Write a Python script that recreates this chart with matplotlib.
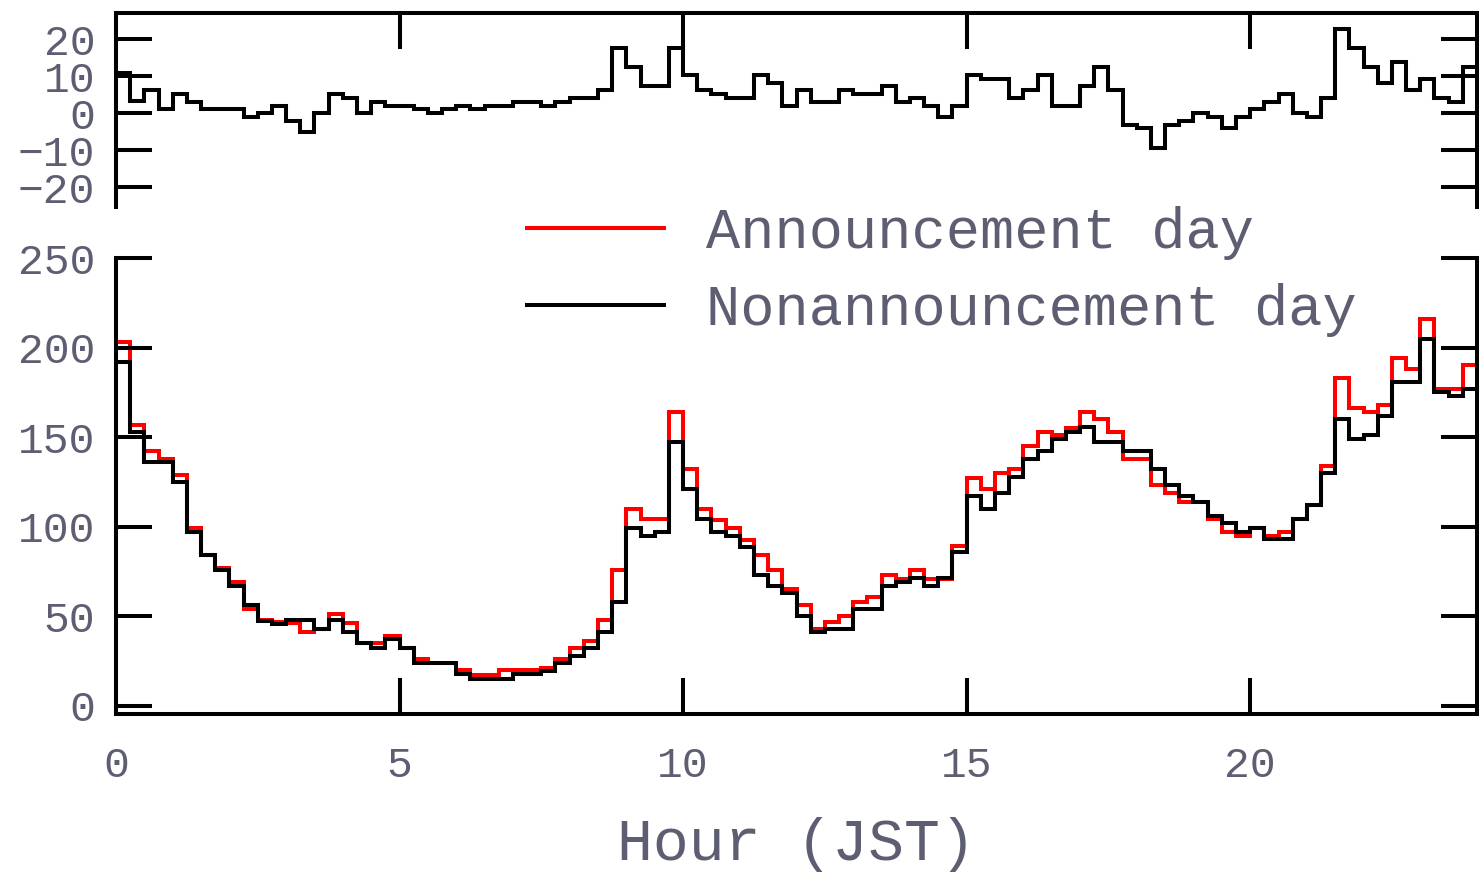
import numpy as np
import matplotlib
matplotlib.use('Agg')
import matplotlib.pyplot as plt
from matplotlib.lines import Line2D

########## data (15 min bins) ##########
hours = np.arange(0, 24.25, 0.25)  # bin edges in JST hours

announce = [203, 157, 142, 138, 129, 99, 84, 77, 69, 54, 48, 47, 46, 41, 43, 51,
            46, 35, 35, 39, 32.5, 26, 24, 24, 20, 17, 17, 20, 20, 20, 21, 26,
            32, 36, 48, 76, 110, 104, 104, 164, 132, 110, 103.5, 99, 92.5, 84,
            76, 65, 56, 43, 47, 50, 58, 61, 73, 71, 76, 71, 71, 89, 127, 121,
            130, 132, 145, 153, 151, 155, 164, 160, 153, 138, 138, 123, 119, 114,
            114, 104, 97, 95, 99, 95, 97, 104, 112, 134, 183, 166, 164, 168, 194,
            188, 216, 177, 177, 190]

nonannounce = [192, 153, 136, 136, 125, 97, 84, 76, 67, 56, 47.6, 45.6, 48, 48, 43, 48,
               41, 35, 32.5, 37, 32.5, 23.7, 23.7, 23.7, 17.5, 15, 15, 15, 17.5, 17.5,
               19.6, 23.7, 28, 32.5, 41, 58, 99, 95, 97, 147, 121, 104, 97, 95, 88.6,
               73, 67, 63, 50, 41, 43, 43, 54, 54, 67, 69, 71.4, 67, 71.4, 86, 117,
               110, 119, 127.5, 138, 142, 149, 153, 155.5, 147, 147, 142, 142, 132,
               123, 117, 114, 106, 102, 97, 99, 93, 93, 104, 112, 130, 160, 149, 151,
               162, 181, 181, 205, 175, 173, 177]

difference = [11, 3.3, 6.3, 1, 5.2, 3.1, 1, 1, 1, -1, 0, 2, -2, -5.2, 0, 5.2,
              4.2, 0, 3.1, 2, 2, 1, 0, 1, 2, 1, 2, 2, 3.1, 3.1, 2, 3.1,
              4.2, 4.2, 6.3, 17.7, 12.6, 7.4, 7.4, 17.7, 10.3, 6.3, 5.2, 4.2, 4.2, 10.3,
              8.3, 2, 6.3, 3.1, 3.1, 6.3, 5.2, 5.2, 7.4, 3.1, 4.2, 2, -1, 2, 10.3, 9.3,
              9.3, 4.2, 6.3, 10.3, 2, 2, 7.4, 12.6, 6.3, -3.2, -4.1, -9.4, -3.2, -2,
              0, -1, -4.1, -1, 1, 3.1, 5.2, 0, -1, 4.2, 22.8, 17.7, 12.6, 8.3, 13.8,
              6.3, 9.3, 4.2, 3.1, 12.6]

xticks = [0, 5, 10, 15, 20]
yticks_main = [0, 50, 100, 150, 200, 250]
yticks_diff = [-20, -10, 0, 10, 20]

########## style ##########
font = 'Liberation Mono'
txtcol = '#5e5e72'
lw = 2.9

plt.rcParams['font.family'] = font
plt.rcParams['axes.linewidth'] = lw

fig = plt.figure(figsize=(14.79, 8.82), dpi=100)
W, H = 1479.0, 882.0
ax_top = fig.add_axes([116 / W, 1 - 207 / H, 1361 / W, (207 - 12.7) / H])
ax_bot = fig.add_axes([116 / W, 1 - 714 / H, 1361 / W, (714 - 258) / H])

tick_kw = dict(direction='in', length=26, width=lw, colors='black',
               labelcolor=txtcol, labelsize=31)

# difference panel
ax_top.stairs(difference, hours, baseline=None, color='black', lw=lw)
ax_top.set_xlim(0, 24)
ax_top.set_ylim(-25.4, 27.2)
ax_top.spines['bottom'].set_visible(False)
ax_top.set_xticks(xticks)
ax_top.set_yticks(yticks_diff)
ax_top.tick_params(axis='x', top=True, bottom=False, labelbottom=False, **tick_kw)
ax_top.tick_params(axis='y', left=True, right=True, pad=15, **tick_kw)

# main panel
ax_bot.stairs(announce, hours, baseline=None, color='#ff0000', lw=lw)
ax_bot.stairs(nonannounce, hours, baseline=None, color='black', lw=lw)
ax_bot.set_xlim(0, 24)
ax_bot.set_ylim(-4.6, 250)
ax_bot.spines['top'].set_visible(False)
ax_bot.set_xticks(xticks)
ax_bot.set_yticks(yticks_main)
ax_bot.tick_params(axis='x', top=False, bottom=True, pad=23, **tick_kw)
ax_bot.tick_params(axis='y', left=True, right=True, pad=15, **tick_kw)
ax_bot.set_xlabel('Hour (JST)', fontsize=43, color=txtcol, labelpad=22)

handles = [Line2D([], [], color='#ff0000', lw=lw), Line2D([], [], color='black', lw=lw)]
fig.legend(handles, ['Announcement day', 'Nonannouncement day'],
           loc='upper left', bbox_to_anchor=(527 / W, 1 - 206 / H),
           frameon=False, fontsize=41, labelcolor=txtcol,
           handlelength=2.4, handletextpad=0.75, labelspacing=0.4,
           borderpad=0, borderaxespad=0)

fig.savefig('out.png', dpi=100)
